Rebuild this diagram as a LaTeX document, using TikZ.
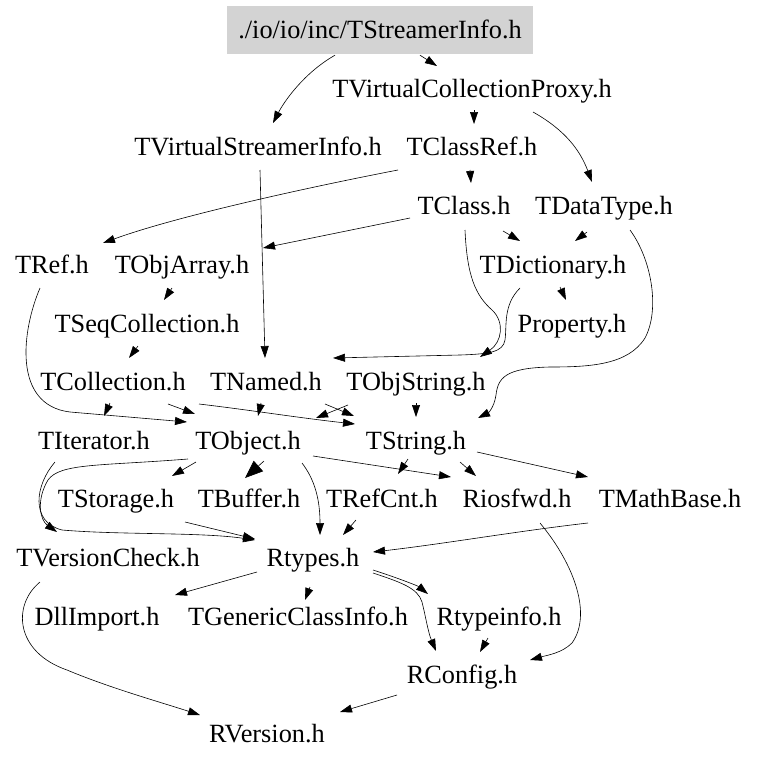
\documentclass[tikz,border=0pt]{standalone}
\usepackage{fontspec}
\setmainfont{Liberation Serif}
\usetikzlibrary{arrows.meta}
\definecolor{boxgray}{HTML}{D3D3D3}

\begin{document}
\begin{tikzpicture}[x=1pt,y=-1pt,
		hfile/.style={font=\fontsize{26.3}{30}\selectfont, anchor=base, inner sep=0pt},
		rootbox/.style={hfile, anchor=center, fill=boxgray, minimum width=306pt, minimum height=48pt, text height=17pt, text depth=0pt},
		dep/.style={-{Triangle[length=12pt,width=8pt]}, line width=0.6pt},
		bigdep/.style={-{Triangle[length=18pt,width=14pt]}, line width=0.6pt}]
		\useasboundingbox (0,0) rectangle (757,763);
		
		\node[rootbox] (root) at (380,30) {./io/io/inc/TStreamerInfo.h};
		\node[hfile] (vcp) at (472,97) {TVirtualCollectionProxy.h};
		\node[hfile] (vsi) at (258,155) {TVirtualStreamerInfo.h};
		\node[hfile] (cref) at (472,155) {TClassRef.h};
		\node[hfile] (tclass) at (464,214) {TClass.h};
		\node[hfile] (dtype) at (604,214) {TDataType.h};
		\node[hfile] (tref) at (52,273) {TRef.h};
		\node[hfile] (objarr) at (182,273) {TObjArray.h};
		\node[hfile] (dict) at (553,273) {TDictionary.h};
		\node[hfile] (seqcoll) at (147,332) {TSeqCollection.h};
		\node[hfile] (prop) at (572,332) {Property.h};
		\node[hfile] (coll) at (113,390) {TCollection.h};
		\node[hfile] (named) at (266,390) {TNamed.h};
		\node[hfile] (objstr) at (416,390) {TObjString.h};
		\node[hfile] (iter) at (94,449) {TIterator.h};
		\node[hfile] (tobject) at (248,449) {TObject.h};
		\node[hfile] (tstring) at (416,449) {TString.h};
		\node[hfile] (storage) at (116,507) {TStorage.h};
		\node[hfile] (buffer) at (249,507) {TBuffer.h};
		\node[hfile] (refcnt) at (382,507) {TRefCnt.h};
		\node[hfile] (riosfwd) at (517,507) {Riosfwd.h};
		\node[hfile] (mathbase) at (670,507) {TMathBase.h};
		\node[hfile] (vcheck) at (108,566) {TVersionCheck.h};
		\node[hfile] (rtypes) at (313,566) {Rtypes.h};
		\node[hfile] (dllimp) at (97,625) {DllImport.h};
		\node[hfile] (genclass) at (298,625) {TGenericClassInfo.h};
		\node[hfile] (rtinfo) at (499,625) {Rtypeinfo.h};
		\node[hfile] (rconfig) at (462,683) {RConfig.h};
		\node[hfile] (rversion) at (267,742) {RVersion.h};
		
		% top rows
		\draw[dep] ([shift={(-45,1)}]root.south) .. controls +(-30,17) and +(12,-23) .. ([shift={(15,-32)}]vsi.base);
		\draw[dep] ([shift={(40,1)}]root.south) -- ([shift={(-35,-31)}]vcp.base);
		\draw[dep] ([shift={(2,13)}]vcp.base) -- ([shift={(2,-31)}]cref.base);
		\draw[dep] ([shift={(61,15)}]vcp.base) .. controls +(32,18) and +(-12,-32) .. ([shift={(-12,-32)}]dtype.base);
		\draw[dep] ([shift={(-74,15)}]cref.base) .. controls +(-78,15) and +(77,-28) .. ([shift={(51,-30)}]tref.base);
		\draw[dep] ([shift={(-2,15)}]cref.base) -- ([shift={(7,-31)}]tclass.base);
		\draw[dep] ([shift={(2,15)}]vsi.base) -- ([shift={(-1,-32)}]named.base);
		\draw[dep] ([shift={(-54,4)}]tclass.base) -- ([shift={(81,-25)}]objarr.base);
		\draw[dep] ([shift={(39,17)}]tclass.base) -- ([shift={(-33,-32)}]dict.base);
		\draw[dep] ([shift={(-17,18)}]dtype.base) -- ([shift={(22,-32)}]dict.base);
		\draw[dep] ([shift={(26,16)}]dtype.base) .. controls (652,260) and (660,310) .. (645,338)
			.. controls (628,365) and (590,367) .. (550,367)
			.. controls (505,368) and (498,378) .. (496,395)
			.. controls (494,408) and (488,413) .. ([shift={(62,-31)}]tstring.base);
		\draw[dep] ([shift={(1,16)}]tclass.base) .. controls (467,275) and (475,295) .. (492,310)
			.. controls (505,322) and (502,342) .. ([shift={(64,-33)}]objstr.base);
		\draw[dep] ([shift={(-33,15)}]dict.base) .. controls (503,305) and (507,325) .. (505,340)
			.. controls (503,352) and (490,354) .. (460,355) -- ([shift={(67,-32)}]named.base);
		\draw[dep] ([shift={(7,14)}]dict.base) -- ([shift={(-6,-32)}]prop.base);
		\draw[dep] ([shift={(-10,15)}]objarr.base) -- ([shift={(17,-32)}]seqcoll.base);
		\draw[dep] ([shift={(-9,14)}]seqcoll.base) -- ([shift={(16,-32)}]coll.base);
		
		% middle rows
		\draw[dep] ([shift={(-12,15)}]tref.base) .. controls (22,330) and (12,405) .. (70,412) -- ([shift={(-61,-27)}]tobject.base);
		\draw[dep] ([shift={(-3,13)}]coll.base) -- ([shift={(10,-33)}]iter.base);
		\draw[dep] ([shift={(55,14)}]coll.base) -- ([shift={(-53,-35)}]tobject.base);
		\draw[dep] ([shift={(86,14)}]coll.base) .. controls (250,410) and (300,418) .. ([shift={(-61,-25)}]tstring.base);
		\draw[dep] ([shift={(-5,13)}]named.base) -- ([shift={(10,-33)}]tobject.base);
		\draw[dep] ([shift={(59,14)}]named.base) -- ([shift={(-62,-33)}]tstring.base);
		\draw[dep] ([shift={(-68,15)}]objstr.base) -- ([shift={(68,-31)}]tobject.base);
		\draw[dep] ([shift={(0,13)}]objstr.base) -- ([shift={(0,-32)}]tstring.base);
		\draw[dep] ([shift={(-52,13)}]tobject.base) -- ([shift={(56,-31)}]storage.base);
		\draw[bigdep] ([shift={(16,12)}]tobject.base) -- ([shift={(-4,-29)}]buffer.base);
		\draw[dep] ([shift={(-60,10)}]tobject.base) .. controls (100,466) and (60,463) .. (48,480)
			.. controls (36,500) and (40,520) .. ([shift={(-51,-34)}]vcheck.base);
		\draw[dep] ([shift={(-39,13)}]iter.base) .. controls (35,485) and (30,522) .. (62,530)
			.. controls (120,535) and (200,532) .. ([shift={(-58,-26)}]rtypes.base);
		\draw[dep] ([shift={(69,15)}]storage.base) -- ([shift={(-58,-27)}]rtypes.base);
		\draw[dep] ([shift={(54,14)}]tobject.base) .. controls +(13,17) and +(0,-35) .. ([shift={(7,-31)}]rtypes.base);
		\draw[dep] ([shift={(-26,13)}]refcnt.base) -- ([shift={(30,-31)}]rtypes.base);
		\draw[dep] ([shift={(65,7)}]tobject.base) -- ([shift={(-66,-30)}]riosfwd.base);
		\draw[dep] ([shift={(-8,10)}]tstring.base) -- ([shift={(16,-33)}]refcnt.base);
		\draw[dep] ([shift={(44,13)}]tstring.base) -- ([shift={(-41,-31)}]riosfwd.base);
		\draw[dep] ([shift={(61,3)}]tstring.base) -- ([shift={(-82,-30)}]mathbase.base);
		
		% bottom rows
		\draw[dep] ([shift={(-82,16)}]mathbase.base) .. controls +(-70,8) and +(70,-8) .. ([shift={(60,-14)}]rtypes.base);
		\draw[dep] ([shift={(23,16)}]riosfwd.base) .. controls (575,565) and (592,615) .. (572,643)
			.. controls (562,653) and (548,655) .. ([shift={(68,-23)}]rconfig.base);
		\draw[dep] ([shift={(-56,6)}]rtypes.base) -- ([shift={(78,-30)}]dllimp.base);
		\draw[dep] ([shift={(-3,21)}]rtypes.base) -- ([shift={(7,-25)}]genclass.base);
		\draw[dep] ([shift={(60,4)}]rtypes.base) .. controls +(25,8) and +(-10,-8) .. ([shift={(-71,-31)}]rtinfo.base);
		\draw[dep] ([shift={(60,7)}]rtypes.base) .. controls (400,582) and (418,588) .. (422,602)
			.. controls (426,618) and (428,632) .. ([shift={(-26,-32)}]rconfig.base);
		\draw[dep] ([shift={(-11,13)}]rtinfo.base) -- ([shift={(18,-31)}]rconfig.base);
		\draw[dep] ([shift={(-65,12)}]rconfig.base) -- ([shift={(73,-30)}]rversion.base);
		\draw[dep] ([shift={(-68,16)}]vcheck.base) .. controls (12,605) and (15,652) .. (67,670)
			.. controls (110,688) and (160,702) .. ([shift={(-67,-27)}]rversion.base);
\end{tikzpicture}
\end{document}
